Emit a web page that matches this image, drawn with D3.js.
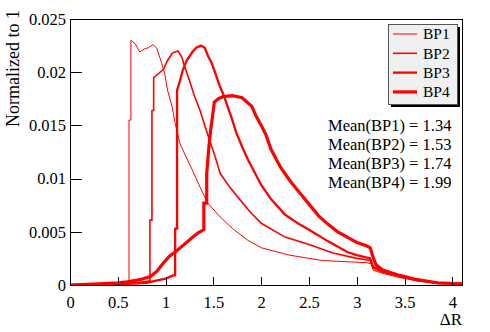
<!DOCTYPE html>
<html lang="en">
<head>
<meta charset="UTF-8">
<title>Delta R</title>
<script src="https://d3js.org/d3.v7.min.js"></script>
<style>
    body { margin: 0; background-color: #ffffff; }
    text { font-family: "Liberation Serif", "Times New Roman", serif; fill: #000000; }
</style>
</head>
<body>
<div id="my_dataviz"></div>
<script>

// data: each series is a list of x positions and the histogram height read at them
var bp1X = [0, 0.6, 0.617, 0.617, 0.637, 0.637, 0.68, 0.73, 0.78, 0.82, 0.87, 0.91, 0.96, 0.99, 1.02, 1.07, 1.10, 1.15, 1.18, 1.28, 1.36, 1.44, 1.57, 1.70, 1.86, 2.0, 2.3, 2.64, 3.1, 3.15, 3.17, 3.27, 3.45, 3.63, 3.84, 4.1];
var bp1Y = [0, 0.00005, 0.0001, 0.0155, 0.0155, 0.0230, 0.0227, 0.0219, 0.0222, 0.0223, 0.0226, 0.0222, 0.0208, 0.0199, 0.0183, 0.0167, 0.0152, 0.0133, 0.0127, 0.0108, 0.0092, 0.0077, 0.0064, 0.0053, 0.0042, 0.0035, 0.0028, 0.0023, 0.0021, 0.0020, 0.0014, 0.0011, 0.0007, 0.0004, 0.0002, 0.0001];

var bp2X = [0, 0.5, 0.7, 0.836, 0.836, 0.857, 0.857, 0.875, 0.875, 0.93, 0.98, 1.02, 1.07, 1.13, 1.17, 1.20, 1.25, 1.30, 1.36, 1.41, 1.46, 1.52, 1.57, 1.67, 1.78, 1.88, 2.0, 2.25, 2.5, 2.75, 3.0, 3.14, 3.17, 3.27, 3.45, 3.63, 3.84, 4.1];
var bp2Y = [0, 0.0001, 0.0002, 0.0004, 0.0061, 0.0061, 0.0164, 0.0164, 0.0195, 0.0199, 0.0203, 0.0211, 0.0218, 0.0220, 0.0214, 0.0205, 0.0192, 0.0178, 0.0164, 0.0150, 0.0136, 0.0120, 0.0105, 0.0092, 0.0080, 0.0069, 0.0058, 0.0045, 0.0038, 0.0030, 0.0025, 0.0023, 0.0016, 0.0012, 0.0008, 0.0004, 0.0002, 0.0001];

var bp3X = [0, 0.6, 0.8, 0.9, 1.0, 1.08, 1.10, 1.10, 1.12, 1.12, 1.15, 1.18, 1.22, 1.28, 1.32, 1.37, 1.41, 1.44, 1.48, 1.52, 1.57, 1.60, 1.64, 1.69, 1.74, 1.80, 1.86, 1.93, 2.0, 2.1, 2.25, 2.4, 2.5, 2.7, 2.9, 3.0, 3.14, 3.17, 3.27, 3.45, 3.63, 3.84, 4.1];
var bp3Y = [0, 0.0001, 0.0002, 0.0004, 0.0006, 0.0009, 0.0009, 0.0053, 0.0053, 0.0183, 0.0192, 0.0202, 0.0211, 0.0219, 0.0223, 0.0225, 0.0223, 0.0216, 0.0209, 0.0199, 0.0186, 0.0180, 0.0170, 0.0157, 0.0143, 0.0130, 0.0118, 0.0106, 0.0094, 0.0081, 0.0066, 0.0057, 0.0052, 0.0041, 0.0031, 0.0028, 0.0025, 0.0017, 0.0013, 0.0008, 0.0005, 0.0002, 0.0001];

var bp4X = [0, 0.3, 0.5, 0.6, 0.73, 0.84, 0.91, 0.97, 1.04, 1.10, 1.18, 1.27, 1.34, 1.40, 1.40, 1.43, 1.43, 1.45, 1.47, 1.49, 1.51, 1.55, 1.6, 1.7, 1.8, 1.85, 1.9, 1.95, 2.0, 2.05, 2.1, 2.2, 2.3, 2.4, 2.5, 2.6, 2.7, 2.8, 2.9, 3.0, 3.1, 3.14, 3.17, 3.2, 3.27, 3.45, 3.63, 3.84, 4.1];
var bp4Y = [0, 0.0001, 0.0002, 0.0003, 0.0005, 0.0008, 0.0013, 0.0020, 0.0027, 0.0031, 0.0037, 0.0044, 0.0049, 0.0052, 0.0077, 0.0077, 0.0105, 0.0127, 0.0145, 0.0158, 0.0172, 0.0175, 0.0177, 0.0178, 0.0176, 0.0172, 0.0168, 0.0158, 0.0150, 0.0141, 0.0128, 0.0111, 0.0098, 0.0087, 0.0076, 0.0065, 0.0057, 0.0050, 0.0045, 0.0040, 0.0037, 0.0035, 0.0026, 0.0019, 0.0014, 0.0009, 0.0005, 0.0002, 0.0001];

var names = ["BP1", "BP2", "BP3", "BP4"];
var means = ["1.34", "1.53", "1.74", "1.99"];
var widths = [1, 1.6, 2.3, 3.2];
var xTicks = [0, 0.5, 1, 1.5, 2, 2.5, 3, 3.5, 4];
var yTicks = [0, 0.005, 0.01, 0.015, 0.02, 0.025];

var series = [
    {name: names[0], xs: bp1X, ys: bp1Y},
    {name: names[1], xs: bp2X, ys: bp2Y},
    {name: names[2], xs: bp3X, ys: bp3Y},
    {name: names[3], xs: bp4X, ys: bp4Y}
];

//dimensions and margins
var W = 490, H = 332;
var margin = {top: 19, right: 28, bottom: 47, left: 70},
    width = W - margin.left - margin.right,
    height = H - margin.top - margin.bottom;

var svg = d3.select("#my_dataviz")
    .append("svg")
        .attr("width", W)
        .attr("height", H)
        .style("background-color", "white");

var g = svg.append("g")
    .attr("transform", "translate(" + margin.left + "," + margin.top + ")");

//scales
var x = d3.scaleLinear().domain([0, 4.1]).range([0, width]);
var y = d3.scaleLinear().domain([0, 0.025]).range([height, 0]);

g.append("clipPath").attr("id", "frameclip")
    .append("rect").attr("x", -2).attr("y", -2).attr("width", width + 4).attr("height", height + 2);

//curves
var line = d3.line()
    .x(function(d) { return x(d[0]); })
    .y(function(d) { return y(d[1]); });

g.append("g").attr("clip-path", "url(#frameclip)")
    .selectAll("path")
    .data(series)
    .enter()
    .append("path")
        .attr("d", function(s) { return line(s.xs.map(function(v, i) { return [v, s.ys[i]]; })); })
        .attr("fill", "none")
        .attr("stroke", "#ff0000")
        .attr("stroke-linejoin", "miter")
        .attr("stroke-width", function(s, i) { return widths[i]; });

//frame
g.append("rect")
    .attr("width", width)
    .attr("height", height)
    .attr("fill", "none")
    .attr("stroke", "black")
    .attr("stroke-width", 1)
    .attr("shape-rendering", "crispEdges");

//x axis (ticks pointing into the frame)
var xAxis = g.append("g").attr("transform", "translate(0," + height + ")");
xAxis.call(d3.axisBottom(x).tickValues(d3.range(0, 41).map(function(i) { return i / 10; })).tickSize(-4).tickFormat(""));
xAxis.call(d3.axisBottom(x).tickValues(xTicks).tickSize(-8).tickFormat(d3.format("")));
xAxis.selectAll(".domain").remove();
xAxis.selectAll("line").attr("stroke", "black").attr("shape-rendering", "crispEdges");
xAxis.selectAll("text")
    .attr("y", 11)
    .attr("dy", "0.71em")
    .style("font-size", "16.5px");

//y axis
var yAxis = g.append("g");
yAxis.call(d3.axisLeft(y).tickValues(d3.range(0, 26).map(function(i) { return i / 1000; })).tickSize(-6).tickFormat(""));
yAxis.call(d3.axisLeft(y).tickValues(yTicks).tickSize(-12).tickFormat(d3.format("")));
yAxis.selectAll(".domain").remove();
yAxis.selectAll("line").attr("stroke", "black").attr("shape-rendering", "crispEdges");
yAxis.selectAll("text")
    .attr("x", -4)
    .style("font-size", "16.5px");

//axis titles
svg.append("text")
    .attr("x", 462)
    .attr("y", 325)
    .attr("text-anchor", "end")
    .style("font-size", "17px")
    .text("\u0394R");

svg.append("text")
    .attr("transform", "translate(19,10) rotate(-90)")
    .attr("text-anchor", "end")
    .style("font-size", "18px")
    .text("Normalized to 1");

//legend
var lg = svg.append("g").attr("transform", "translate(388,24)");
lg.append("rect")
    .attr("x", 3).attr("y", 3).attr("width", 69).attr("height", 80)
    .attr("fill", "black");
lg.append("rect")
    .attr("x", 0.5).attr("y", 0.5).attr("width", 69).attr("height", 80)
    .attr("fill", "#f0f0f0")
    .attr("stroke", "#555555")
    .attr("stroke-width", 1);

var rows = lg.selectAll(".row")
    .data(names)
    .enter()
    .append("g")
        .attr("transform", function(d, i) { return "translate(0," + (10 + i * 19.3) + ")"; });
rows.append("line")
    .attr("x1", 5).attr("x2", 29)
    .attr("stroke", "#ff0000")
    .attr("stroke-width", function(d, i) { return widths[i]; });
rows.append("text")
    .attr("x", 35)
    .attr("dy", "0.35em")
    .style("font-size", "15.5px")
    .text(function(d) { return d; });

//mean values
svg.selectAll(".mean")
    .data(names)
    .enter()
    .append("text")
        .attr("x", 328)
        .attr("y", function(d, i) { return 131 + i * 19; })
        .style("font-size", "16.5px")
        .text(function(d, i) { return "Mean(" + d + ") = " + means[i]; });

</script>
</body>
</html>
